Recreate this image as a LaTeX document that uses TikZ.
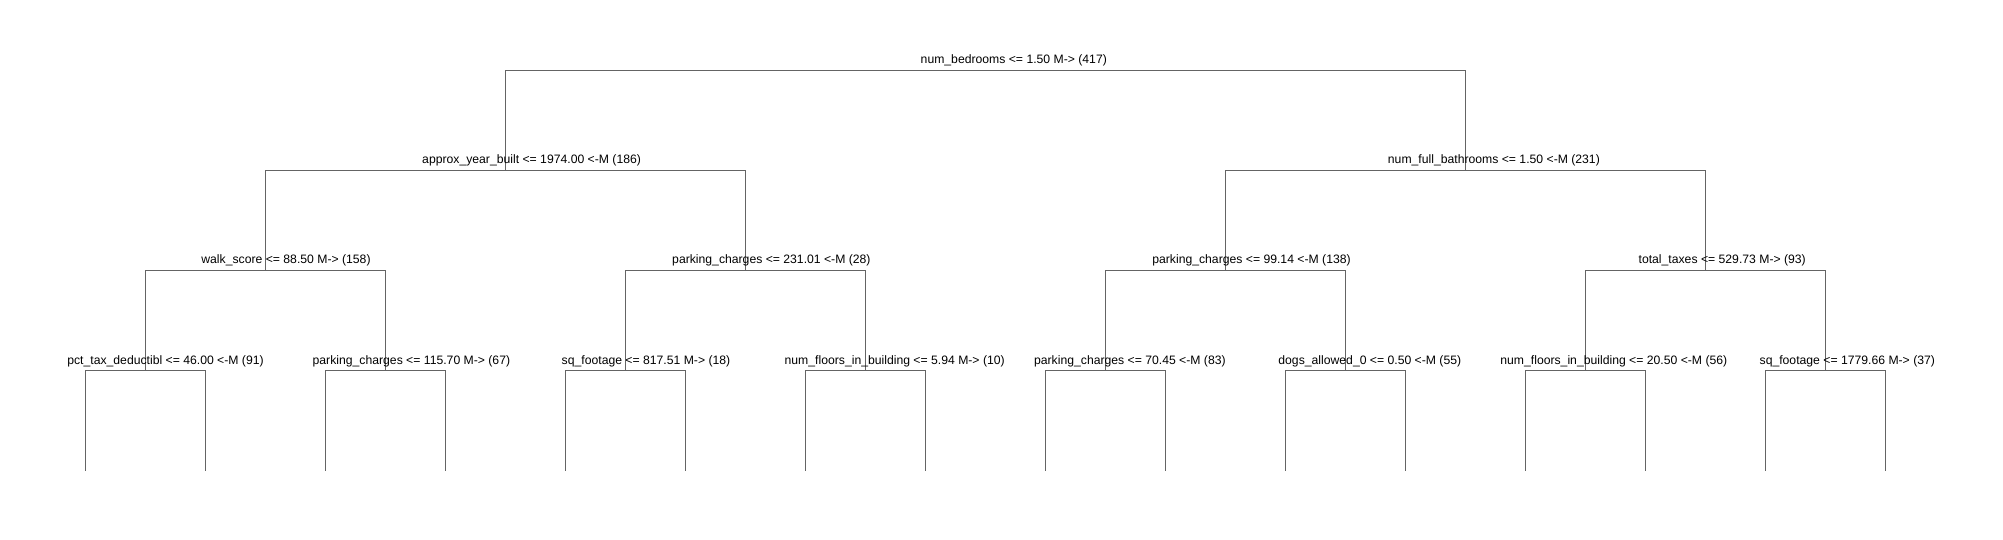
\documentclass[tikz,border=0pt]{standalone}
\usepackage{fontspec}
\setmainfont{Liberation Sans}
\usepackage{tikz}
\usetikzlibrary{calc}
\definecolor{edgegray}{RGB}{100,100,100}
\tikzset{split/.style={draw=edgegray,line width=1pt},
  lbl/.style={anchor=base,inner sep=0pt,font=\fontsize{12.2}{14}\selectfont}}

\begin{document}
\begin{tikzpicture}[x=1pt,y=-1pt]
\useasboundingbox (0,0) rectangle (2003,540);
\coordinate (R) at (985.5,70.5);
\coordinate (A) at (505.5,170.5);
\coordinate (B) at (1465.5,170.5);
\coordinate (AA) at (265.5,270.5);
\coordinate (AB) at (745.5,270.5);
\coordinate (BA) at (1225.5,270.5);
\coordinate (BB) at (1705.5,270.5);
\foreach \i in {0,...,7} \coordinate (C\i) at ({145.5+240*\i},370.5);
\foreach \i in {0,...,15} \coordinate (L\i) at ({85.5+120*\i},470.7);
\draw[split] (A) -- (A |- R) -- (B |- R) -- (B);
\draw[split] (AA) -- (AA |- A) -- (AB |- A) -- (AB);
\draw[split] (BA) -- (BA |- B) -- (BB |- B) -- (BB);
\draw[split] (C0) -- (C0 |- AA) -- (C1 |- AA) -- (C1);
\draw[split] (C2) -- (C2 |- AB) -- (C3 |- AB) -- (C3);
\draw[split] (C4) -- (C4 |- BA) -- (C5 |- BA) -- (C5);
\draw[split] (C6) -- (C6 |- BB) -- (C7 |- BB) -- (C7);
\foreach \c/\l/\r in {0/0/1,1/2/3,2/4/5,3/6/7,4/8/9,5/10/11,6/12/13,7/14/15}
  \draw[split] (L\l) -- (L\l |- C\c) -- (L\r |- C\c) -- (L\r);
\node[lbl] (tR) at (1013.8,64) {num\_bedrooms <= 1.50 M-> (417)};
\node[lbl] (tA) at (531.6,164) {approx\_year\_built <= 1974.00 <-M (186)};
\node[lbl] (tB) at (1493.9,164) {num\_full\_bathrooms <= 1.50 <-M (231)};
\node[lbl] (tAA) at (286,264) {walk\_score <= 88.50 M-> (158)};
\node[lbl] (tAB) at (771.4,264) {parking\_charges <= 231.01 <-M (28)};
\node[lbl] (tBA) at (1251.5,264) {parking\_charges <= 99.14 <-M (138)};
\node[lbl] (tBB) at (1722.2,264) {total\_taxes <= 529.73 M-> (93)};
\node[lbl] (tC0) at (165.5,364) {pct\_tax\_deductibl <= 46.00 <-M (91)};
\node[lbl] (tC1) at (411.4,364) {parking\_charges <= 115.70 M-> (67)};
\node[lbl] (tC2) at (646,364) {sq\_footage <= 817.51 M-> (18)};
\node[lbl] (tC3) at (894.7,364) {num\_floors\_in\_building <= 5.94 M-> (10)};
\node[lbl] (tC4) at (1129.9,364) {parking\_charges <= 70.45 <-M (83)};
\node[lbl] (tC5) at (1369.8,364) {dogs\_allowed\_0 <= 0.50 <-M (55)};
\node[lbl] (tC6) at (1613.8,364) {num\_floors\_in\_building <= 20.50 <-M (56)};
\node[lbl] (tC7) at (1847.3,364) {sq\_footage <= 1779.66 M-> (37)};
\end{tikzpicture}
\end{document}
